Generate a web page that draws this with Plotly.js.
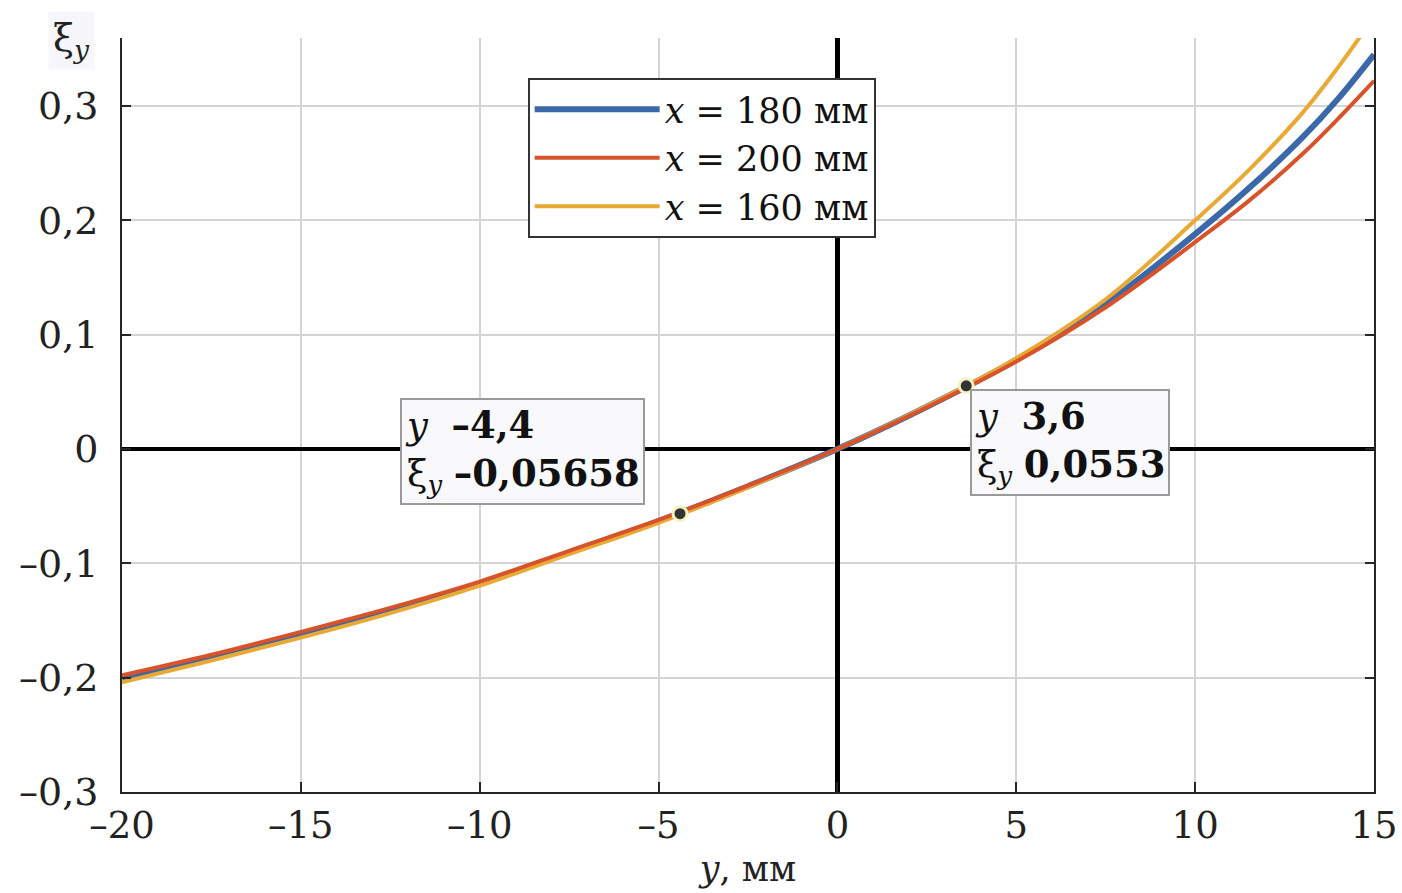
<!DOCTYPE html>
<html>
<head>
<meta charset="utf-8">
<script src="https://cdn.plot.ly/plotly-3.0.1.min.js"></script>
<style>html,body{margin:0;padding:0;background:#fff;}#chart{width:1402px;height:893px;}</style>
</head>
<body>
<div id="chart"></div>
<script>
// Abscissa y, mm
const yPos = [-20, -17.5, -15, -12.5, -10, -7.5, -5, -2.5, 0, 2.5, 5, 7.5, 10, 11.5, 13, 14, 15];
// ξ_y for x = 180 mm
const xi180 = [-0.200, -0.182, -0.1625, -0.141, -0.1177, -0.0905, -0.063, -0.0325, 0, 0.037, 0.078, 0.127, 0.188, 0.228, 0.2725, 0.3065, 0.345];
// ξ_y for x = 200 mm
const xi200 = [-0.198, -0.180, -0.160, -0.139, -0.116, -0.089, -0.062, -0.032, 0, 0.0365, 0.0765, 0.124, 0.181, 0.217, 0.258, 0.289, 0.322];
// ξ_y for x = 160 mm
const xi160 = [-0.204, -0.185, -0.165, -0.1435, -0.1195, -0.092, -0.0645, -0.0335, 0, 0.0375, 0.0795, 0.131, 0.200, 0.244, 0.294, 0.334, 0.378];

// Data tips
const tipY = [-4.4, 3.6];
const tipXi = [-0.05658, 0.0553];
const tipYLabels = ['–4,4', '3,6'];
const tipXiLabels = ['–0,05658', '0,0553'];

// Ticks
const xTickVals = [-20, -15, -10, -5, 0, 5, 10, 15];
const xTickText = ['–20', '–15', '–10', '–5', '0', '5', '10', '15'];
const yTickVals = [-0.3, -0.2, -0.1, 0, 0.1, 0.2, 0.3];
const yTickText = ['–0,3', '–0,2', '–0,1', '0', '0,1', '0,2', '0,3'];

const serif = '"DejaVu Serif", "Liberation Serif", serif';

const traces = [
  {x: yPos, y: xi180, mode: 'lines', name: '<i>x</i> = 180 мм', legendrank: 1,
   line: {color: '#3a68a8', width: 6, shape: 'spline'}},
  {x: yPos, y: xi160, mode: 'lines', name: '<i>x</i> = 160 мм', legendrank: 3,
   line: {color: '#eaa934', width: 4, shape: 'spline'}},
  {x: yPos, y: xi200, mode: 'lines', name: '<i>x</i> = 200 мм', legendrank: 2,
   line: {color: '#d9532a', width: 4, shape: 'spline'}},
  {x: tipY, y: tipXi, mode: 'markers', showlegend: false,
   marker: {color: '#333333', size: 14, line: {color: '#f6f2c4', width: 3}}}
];

const tipShift = [{xs: -280, ys: 116}, {xs: 4, ys: -3}];
const annotations = tipY.map((v, i) => ({
  x: v, y: tipXi[i], xref: 'x', yref: 'y', showarrow: false,
  xanchor: 'left', yanchor: 'top', xshift: tipShift[i].xs, yshift: tipShift[i].ys,
  align: 'left',
  text: '<i>y</i>  <b>' + tipYLabels[i] + '</b><br>ξ<sub><i>y</i></sub> <b>' + tipXiLabels[i] + '</b>',
  font: {family: serif, size: 37, color: '#111'},
  bgcolor: '#f9f9fc', bordercolor: '#9a9a9a', borderwidth: 2, borderpad: 3
}));
annotations.push({
  xref: 'paper', yref: 'paper', x: -0.040, y: 0.997, xanchor: 'center', yanchor: 'middle',
  showarrow: false, text: 'ξ<sub><i>y</i></sub>',
  font: {family: serif, size: 38, color: '#222'}, bgcolor: '#f7f7fb', borderpad: 4
});

const layout = {
  width: 1402, height: 893,
  margin: {l: 122, r: 28, t: 38, b: 101},
  paper_bgcolor: '#ffffff', plot_bgcolor: '#ffffff',
  font: {family: serif, size: 36, color: '#222'},
  showlegend: true,
  legend: {x: 0.324, y: 0.947, xanchor: 'left', yanchor: 'top',
    bgcolor: '#ffffff', bordercolor: '#333', borderwidth: 2,
    font: {family: serif, size: 35, color: '#111'}, itemwidth: 125, tracegroupgap: 0},
  xaxis: {
    range: [-20, 15], tickvals: xTickVals, ticktext: xTickText,
    ticks: 'inside', ticklen: 10, tickwidth: 2, tickcolor: '#262626',
    showline: true, linecolor: '#262626', linewidth: 2, mirror: false,
    showgrid: true, gridcolor: '#d4d4d4', gridwidth: 2,
    zeroline: true, zerolinecolor: '#000', zerolinewidth: 5,
    tickfont: {family: serif, size: 37, color: '#222'},
    title: {text: '<i>y</i>, мм', font: {family: serif, size: 35, color: '#222'}, standoff: 10}
  },
  yaxis: {
    range: [-0.3, 0.3595], tickvals: yTickVals, ticktext: yTickText,
    ticks: 'inside', ticklen: 9, tickwidth: 2, tickcolor: '#262626',
    showline: true, linecolor: '#262626', linewidth: 2, mirror: 'ticks',
    showgrid: true, gridcolor: '#d4d4d4', gridwidth: 2,
    zeroline: true, zerolinecolor: '#000', zerolinewidth: 4,
    tickfont: {family: serif, size: 38, color: '#222'}, ticklabelstandoff: 14
  },
  annotations: annotations
};

Plotly.newPlot('chart', traces, layout, {displayModeBar: false, staticPlot: true});
</script>
</body>
</html>
